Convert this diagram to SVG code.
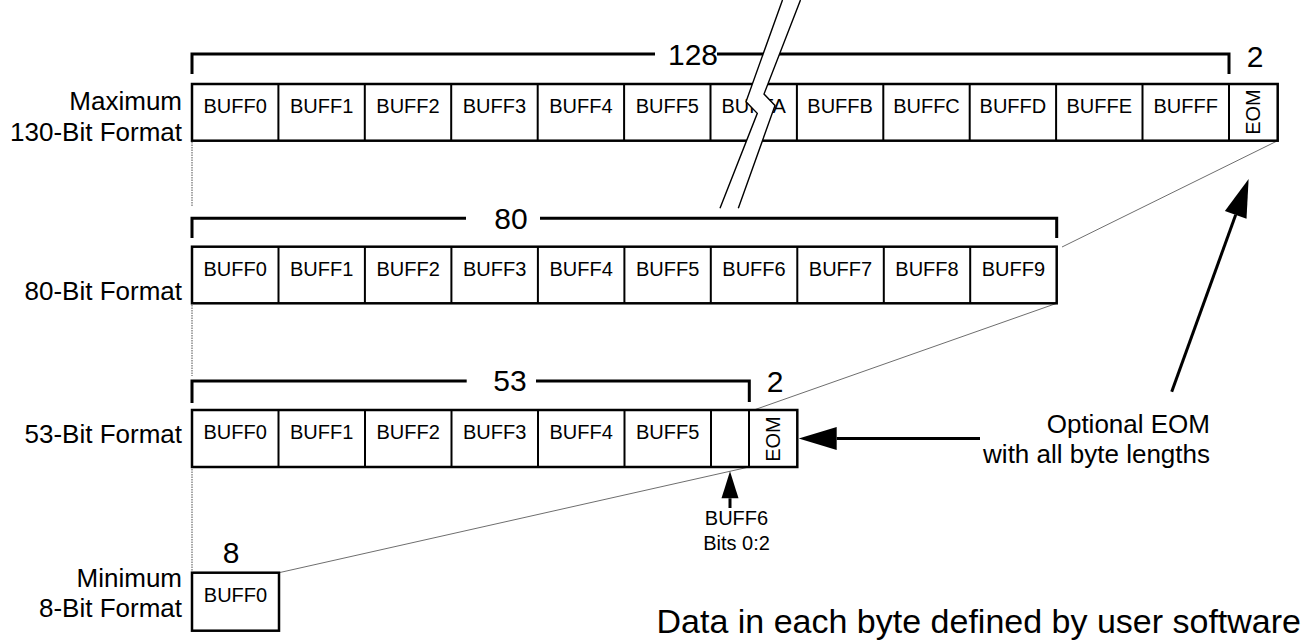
<svg xmlns="http://www.w3.org/2000/svg" width="1308" height="641" viewBox="0 0 1308 641">
<style>
text { font-family: "Liberation Sans", Arial, Helvetica, sans-serif; fill: #000; }
.box { fill: #fff; stroke: #000; stroke-width: 2.5; }
.dv { stroke: #000; stroke-width: 2; }
.cell { font-size: 20px; text-anchor: middle; }
.lbl { font-size: 26px; text-anchor: end; }
.num { font-size: 30px; text-anchor: middle; }
.brk { fill: none; stroke: #000; stroke-width: 3; }
.proj { stroke: #6e6e6e; stroke-width: 1; fill: none; }
.dot { stroke: #8a8a8a; stroke-width: 1.5; stroke-dasharray: 1.5 1; fill: none; }
.arr { stroke: #000; stroke-width: 3; fill: none; }
.cut { fill: none; stroke: #000; stroke-width: 1.4; }
</style>
<defs>
<marker id="ah" markerUnits="userSpaceOnUse" markerWidth="40" markerHeight="24" refX="0" refY="12" orient="auto" overflow="visible">
<path d="M0,0.5 L38,12 L0,23.5 Z" fill="#000"/>
</marker>
<marker id="ahs" markerUnits="userSpaceOnUse" markerWidth="28" markerHeight="18" refX="0" refY="8.5" orient="auto" overflow="visible">
<path d="M0,0 L27,8.5 L0,17 Z" fill="#000"/>
</marker>
</defs>

<g id="guides">
<line class="dot" x1="192" y1="142" x2="192" y2="206"/>
<line class="dot" x1="192" y1="305" x2="192" y2="376"/>
<line class="dot" x1="192" y1="469" x2="192" y2="571"/>
</g>

<g id="connectors">
<line class="proj" x1="1277.7" y1="140.7" x2="1062" y2="247"/>
<line class="proj" x1="1056.7" y1="303.3" x2="751" y2="411"/>
<line class="proj" x1="749" y1="467" x2="279" y2="572.7"/>
<line class="arr" x1="1171.7" y1="391.7" x2="1235.7" y2="214.8" marker-end="url(#ah)"/>
<line class="arr" x1="980" y1="438.5" x2="836.7" y2="438.5" marker-end="url(#ah)"/>
<line class="arr" x1="730" y1="508" x2="730" y2="498.3" marker-end="url(#ahs)"/>
</g>

<g id="labels">
<text class="lbl" x="182" y="110">Maximum</text>
<text class="lbl" x="182" y="141">130-Bit Format</text>
<text class="lbl" x="182" y="300">80-Bit Format</text>
<text class="lbl" x="182" y="443">53-Bit Format</text>
<text class="lbl" x="182" y="587">Minimum</text>
<text class="lbl" x="182" y="617">8-Bit Format</text>
</g>

<g id="row130">
<path class="brk" d="M192,74 V54 H655 M717,54 H1229 V74"/>
<text class="num" x="693" y="65">128</text>
<text class="num" x="1255" y="67">2</text>
<rect class="box" x="192" y="84" width="1085.7" height="56.7"/>
<path class="dv" d="M278.4,84V140.7 M364.8,84V140.7 M451.2,84V140.7 M537.7,84V140.7 M624.1,84V140.7 M710.5,84V140.7 M796.9,84V140.7 M883.3,84V140.7 M969.7,84V140.7 M1056.1,84V140.7 M1142.5,84V140.7 M1229,84V140.7"/>
<text class="cell" x="235.2" y="113">BUFF0</text>
<text class="cell" x="321.6" y="113">BUFF1</text>
<text class="cell" x="408" y="113">BUFF2</text>
<text class="cell" x="494.4" y="113">BUFF3</text>
<text class="cell" x="580.9" y="113">BUFF4</text>
<text class="cell" x="667.3" y="113">BUFF5</text>
<text class="cell" x="753.7" y="113">BUFFA</text>
<text class="cell" x="840.1" y="113">BUFFB</text>
<text class="cell" x="926.5" y="113">BUFFC</text>
<text class="cell" x="1012.9" y="113">BUFFD</text>
<text class="cell" x="1099.3" y="113">BUFFE</text>
<text class="cell" x="1185.7" y="113">BUFFF</text>
<text class="cell" transform="translate(1260,112) rotate(-90)">EOM</text>
</g>

<g id="row80">
<path class="brk" d="M192,238 V218.3 H466 M540,218.3 H1056.7 V238"/>
<text class="num" x="511" y="229">80</text>
<rect class="box" x="192" y="246.7" width="864.7" height="56.6"/>
<path class="dv" d="M278.5,246.7V303.3 M364.9,246.7V303.3 M451.4,246.7V303.3 M537.9,246.7V303.3 M624.4,246.7V303.3 M710.8,246.7V303.3 M797.3,246.7V303.3 M883.8,246.7V303.3 M970.2,246.7V303.3"/>
<text class="cell" x="235.2" y="276">BUFF0</text>
<text class="cell" x="321.7" y="276">BUFF1</text>
<text class="cell" x="408.1" y="276">BUFF2</text>
<text class="cell" x="494.6" y="276">BUFF3</text>
<text class="cell" x="581.1" y="276">BUFF4</text>
<text class="cell" x="667.6" y="276">BUFF5</text>
<text class="cell" x="754" y="276">BUFF6</text>
<text class="cell" x="840.5" y="276">BUFF7</text>
<text class="cell" x="927" y="276">BUFF8</text>
<text class="cell" x="1013.4" y="276">BUFF9</text>
</g>

<g id="row53">
<path class="brk" d="M192,403 V381 H466.7 M536,381 H749.3 V402"/>
<text class="num" x="510" y="391">53</text>
<text class="num" x="775" y="392">2</text>
<rect class="box" x="192" y="410" width="605.3" height="57"/>
<path class="dv" d="M278.5,410V467 M365,410V467 M451.5,410V467 M538,410V467 M624.5,410V467 M711,410V467 M749,410V467"/>
<text class="cell" x="235.2" y="438.5">BUFF0</text>
<text class="cell" x="321.7" y="438.5">BUFF1</text>
<text class="cell" x="408.2" y="438.5">BUFF2</text>
<text class="cell" x="494.7" y="438.5">BUFF3</text>
<text class="cell" x="581.2" y="438.5">BUFF4</text>
<text class="cell" x="667.7" y="438.5">BUFF5</text>
<text class="cell" transform="translate(780,439) rotate(-90)">EOM</text>
</g>

<g id="row8">
<text class="num" x="231" y="563">8</text>
<rect class="box" x="192" y="572.7" width="87" height="58"/>
<text class="cell" x="235.5" y="601.5">BUFF0</text>
</g>

<g id="break">
<polygon points="782.5,0 746,101.7 757.3,113.3 720,208.3 738.3,208.3 775,105.5 764,94 800.5,0" fill="#fff" stroke="none"/>
<polyline class="cut" points="782.5,0 746,101.7 757.3,113.3 720,208.3"/>
<polyline class="cut" points="800.5,0 764,94 775,105.5 738.3,208.3"/>
</g>

<g id="bufnote">
<text class="cell" x="736.5" y="525">BUFF6</text>
<text class="cell" x="736.5" y="550">Bits 0:2</text>
</g>

<g id="eomnote">
<text class="lbl" x="1210" y="433">Optional EOM</text>
<text class="lbl" x="1210" y="463">with all byte lengths</text>
</g>

<text id="footnote" x="1301" y="633" font-size="34" text-anchor="end">Data in each byte defined by user software</text>
</svg>
